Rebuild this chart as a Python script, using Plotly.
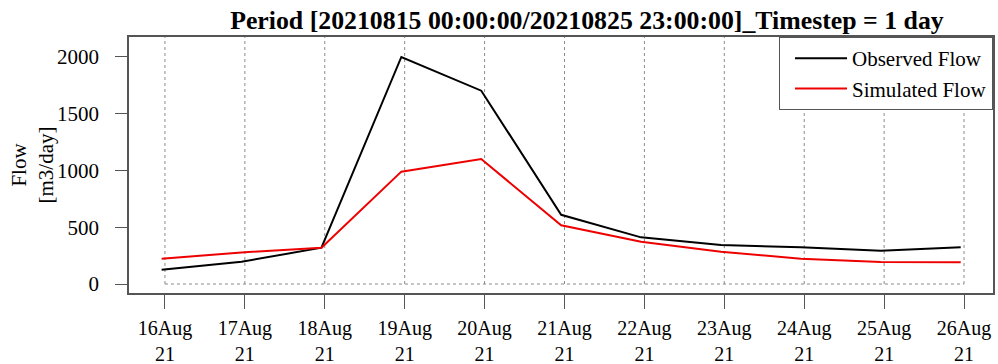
import plotly.graph_objects as go

# data (points are stamped 1 h before midnight of each day, as in the reference)
dates = ["2021-08-15 23:00", "2021-08-16 23:00", "2021-08-17 23:00", "2021-08-18 23:00",
         "2021-08-19 23:00", "2021-08-20 23:00", "2021-08-21 23:00", "2021-08-22 23:00",
         "2021-08-23 23:00", "2021-08-24 23:00", "2021-08-25 23:00"]
observed = [125, 196, 320, 2000, 1703, 610, 411, 344, 323, 293, 323]
simulated = [223, 278, 320, 990, 1101, 517, 373, 285, 223, 194, 191]

tick_vals = ["2021-08-16", "2021-08-17", "2021-08-18", "2021-08-19", "2021-08-20", "2021-08-21",
             "2021-08-22", "2021-08-23", "2021-08-24", "2021-08-25", "2021-08-26"]
tick_text = ["16Aug<br>21", "17Aug<br>21", "18Aug<br>21", "19Aug<br>21", "20Aug<br>21", "21Aug<br>21",
             "22Aug<br>21", "23Aug<br>21", "24Aug<br>21", "25Aug<br>21", "26Aug<br>21"]
y_ticks = [0, 500, 1000, 1500, 2000]

title_text = "Period [20210815 00:00:00/20210825 23:00:00]_Timestep = 1 day"
x_range = ["2021-08-15 13:12", "2021-08-26 08:42"]
y_range = [-79, 2176]

FONT = "Liberation Serif, Times New Roman, serif"
FRAME = "#555555"
FS = 21

fig = go.Figure()
fig.add_trace(go.Scatter(x=dates, y=observed, mode="lines", name="Observed Flow",
                         line=dict(color="black", width=2)))
fig.add_trace(go.Scatter(x=dates, y=simulated, mode="lines", name="Simulated Flow",
                         line=dict(color="#ee0000", width=2)))

# dotted vertical grid from y=0 to top, and dotted horizontal line at 0
y0_frac = (0 - y_range[0]) / (y_range[1] - y_range[0])
shapes = []
for tv in tick_vals:
    shapes.append(dict(type="line", xref="x", yref="paper", x0=tv, x1=tv, y0=y0_frac, y1=1,
                       line=dict(color="#8a8a8a", width=1, dash="dot"), layer="below"))
shapes.append(dict(type="line", xref="x", yref="y", x0=tick_vals[0], x1=tick_vals[-1], y0=0, y1=0,
                   line=dict(color="#8a8a8a", width=1, dash="dot"), layer="below"))

fig.update_layout(
    width=998, height=364,
    margin=dict(l=129, r=5, t=37, b=71),
    paper_bgcolor="white", plot_bgcolor="white",
    font=dict(family=FONT, size=FS, color="black"),
    shapes=shapes,
    title=dict(text="<b>" + title_text + "</b>", x=0.53, xanchor="center", xref="paper",
               y=0.945, yanchor="middle", yref="container",
               font=dict(family=FONT, size=25.8, color="black")),
    xaxis=dict(type="date", range=x_range, tickmode="array", tickvals=tick_vals, ticktext=tick_text,
               automargin=False,
               showgrid=False, zeroline=False, showline=True, mirror=True, linecolor=FRAME, linewidth=1.5,
               ticks="outside", ticklen=14, tickcolor=FRAME, tickwidth=1, ticklabelstandoff=2,
               tickfont=dict(family=FONT, size=20, color="black")),
    yaxis=dict(range=y_range, tickmode="array", tickvals=y_ticks, automargin=False,
               showgrid=False, zeroline=False, showline=True, mirror=True, linecolor=FRAME, linewidth=1.5,
               ticks="outside", ticklen=12, tickcolor=FRAME, tickwidth=1, ticklabelstandoff=12,
               tickfont=dict(family=FONT, size=FS, color="black")),
    legend=dict(x=1, xanchor="right", y=1, yanchor="top", xref="paper", yref="paper",
                bgcolor="white", bordercolor=FRAME, borderwidth=1,
                font=dict(family=FONT, size=FS, color="black"),
                itemwidth=52, indentation=10, tracegroupgap=0),
    showlegend=True,
)

fig.add_annotation(text="Flow<br>[m3/day]", xref="paper", yref="paper", x=(31.5 - 129) / 864, y=0.5,
                   xanchor="center", yanchor="middle", textangle=-90, showarrow=False,
                   font=dict(family=FONT, size=FS, color="black"))

fig.write_html("out.html")
